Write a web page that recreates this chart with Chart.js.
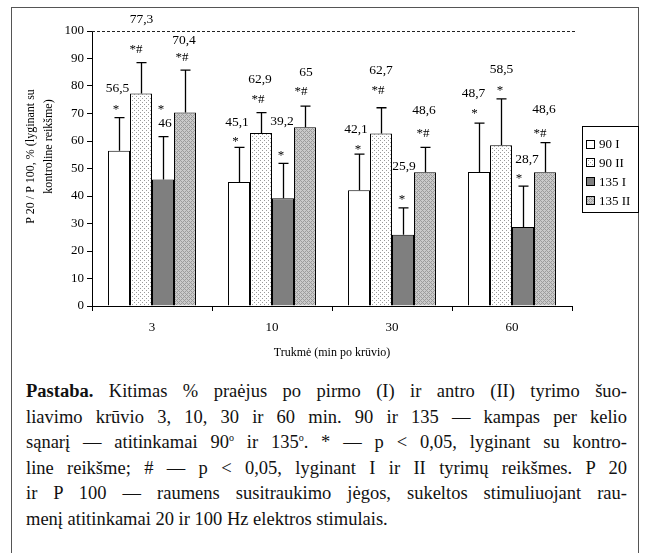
<!DOCTYPE html>
<html>
<head>
<meta charset="utf-8">
<script src="https://cdn.jsdelivr.net/npm/chart.js@4.4.1/dist/chart.umd.min.js"></script>
<style>
  body { margin: 0; background: #fff; width: 645px; height: 553px; overflow: hidden; position: relative; }
  #frame { position: absolute; left: 11px; top: 7px; width: 626px; height: 600px; border: 1px solid #555; }
  #chart { position: absolute; left: 0; top: 0; }
  #note { position: absolute; left: 26px; top: 379px; width: 601px;
          font-family: 'Liberation Serif', 'Times New Roman', serif; font-size: 18.5px; line-height: 25.5px;
          color: #111; }
  #note div { white-space: nowrap; text-align: justify; text-align-last: justify; }
  #note div.last { text-align-last: left; }
  #note sup { font-size: 10px; line-height: 0; }
</style>
</head>
<body>
<div id="frame"></div>
<canvas id="chart" width="645" height="375"></canvas>
<div id="note">
  <div><b>Pastaba.</b> Kitimas % praėjus po pirmo (I) ir antro (II) tyrimo šuo-</div>
  <div>liavimo krūvio 3, 10, 30 ir 60 min. 90 ir 135 — kampas per kelio</div>
  <div>sąnarį — atitinkamai 90<sup>o</sup> ir 135<sup>o</sup>. * — p &lt; 0,05, lyginant su kontro-</div>
  <div>line reikšme; # — p &lt; 0,05, lyginant I ir II tyrimų reikšmes. P 20</div>
  <div>ir P 100 — raumens susitraukimo jėgos, sukeltos stimuliuojant rau-</div>
  <div class="last">menį atitinkamai 20 ir 100 Hz elektros stimulais.</div>
</div>
<script>
// ===== DATA =====
const categories = ['3', '10', '30', '60'];
const seriesNames = ['90 I', '90 II', '135 I', '135 II'];

const values90I = [56.5, 45.1, 42.1, 48.7];
const values90II = [77.3, 62.9, 62.7, 58.5];
const values135I = [46, 39.2, 25.9, 28.7];
const values135II = [70.4, 65, 48.6, 48.6];

// upper error bar (SD)
const sd90I = [12.0, 12.6, 13.1, 17.8];
const sd90II = [11.2, 7.4, 9.4, 16.8];
const sd135I = [15.6, 12.7, 9.8, 14.9];
const sd135II = [15.4, 7.7, 9.1, 10.8];

// significance marks
const sig90I = ['*', '*', '*', '*'];
const sig90II = ['*#', '*#', '*#', '*'];
const sig135I = ['*', '*', '*', '*'];
const sig135II = ['*#', '*#', '*#', '*#'];

const controlLevel = 100;
const yMin = 0, yMax = 100, yStep = 10;

const yTitleLines = ['P 20 / P 100, % (lyginant su', 'kontroline reikšme)'];
const xTitle = 'Trukmė (min po krūvio)';

// ===== LABEL LAYOUT (offsets from the error bar cap: [numDx, numDy, sigDx, sigDy]) =====
const labelOffsets = [
  [[-1.5, -29, -3, -11], [-2, -25, -3.5, -9], [-3, -25, -1, -8], [-5.5, -30, -4.5, -13]],
  [[0.5, -43, -5, -14], [-1, -33, -3, -14], [0, -37, -3, -18], [0.5, -29, -1, -11]],
  [[2, -13, -2, -30], [-1, -42, -2, -11], [1, -41, -1, -11], [4, -27, -4, -11]],
  [[-1, -30, -3, -13], [1, -34, -4, -15], [-1, -37, -2, -15], [-1, -33, -5, -10]]
];

const SERIF = "'Liberation Serif', 'Times New Roman', serif";
Chart.defaults.font.family = SERIF;
Chart.defaults.color = '#000';

// ===== PATTERNS =====
function makePattern(size, base, dots, dotColor) {
  const c = document.createElement('canvas');
  c.width = size; c.height = size;
  const g = c.getContext('2d');
  g.fillStyle = base;
  g.fillRect(0, 0, size, size);
  g.fillStyle = dotColor;
  dots.forEach(d => g.fillRect(d[0], d[1], 1, 1));
  return g.createPattern(c, 'repeat');
}
const ctx = document.getElementById('chart').getContext('2d');
const fillDotted = makePattern(4, '#ffffff', [[0, 0], [2, 2]], '#9a9a9a');
const fillHatch = makePattern(4, '#cacaca', [[0, 0], [1, 1], [2, 2], [3, 3], [3, 1], [1, 3]], '#9c9c9c');

const seriesValues = [values90I, values90II, values135I, values135II];
const seriesSd = [sd90I, sd90II, sd135I, sd135II];
const seriesSig = [sig90I, sig90II, sig135I, sig135II];
const seriesFill = ['#ffffff', fillDotted, '#7f7f7f', fillHatch];

const datasets = seriesNames.map((name, i) => ({
  label: name,
  data: seriesValues[i],
  sd: seriesSd[i],
  sig: seriesSig[i],
  backgroundColor: seriesFill[i],
  borderColor: '#000',
  borderWidth: 1,
  categoryPercentage: 0.733,
  barPercentage: 1
}));

function fmt(v) {
  return String(v).replace('.', ',');
}

// ===== PLUGINS =====
const refLinePlugin = {
  id: 'refLine',
  afterDatasetsDraw(chart) {
    const c = chart.ctx, area = chart.chartArea;
    const y = chart.scales.y.getPixelForValue(controlLevel);
    c.save();
    c.strokeStyle = '#222';
    c.lineWidth = 1;
    c.setLineDash([3, 2]);
    c.beginPath();
    c.moveTo(area.left, y + 0.5);
    c.lineTo(area.right + 3, y + 0.5);
    c.stroke();
    c.restore();
  }
};

const errorBarPlugin = {
  id: 'errorBars',
  afterDatasetsDraw(chart) {
    const c = chart.ctx, yScale = chart.scales.y;
    c.save();
    c.strokeStyle = '#000';
    c.lineWidth = 1.3;
    c.fillStyle = '#000';
    chart.data.datasets.forEach((ds, di) => {
      const meta = chart.getDatasetMeta(di);
      meta.data.forEach((bar, i) => {
        const v = ds.data[i];
        const capY = yScale.getPixelForValue(v + ds.sd[i]);
        const x = Math.round(bar.x) + 0.5;
        c.beginPath();
        c.moveTo(x, bar.y);
        c.lineTo(x, capY);
        c.moveTo(x - 5, capY);
        c.lineTo(x + 5, capY);
        c.stroke();

        // value and significance labels
        const off = labelOffsets[di][i];
        c.textAlign = 'center';
        c.textBaseline = 'middle';
        c.font = '13.5px ' + SERIF;
        c.fillText(fmt(v), bar.x + off[0], capY + off[1]);
        const s = ds.sig[i];
        c.font = '13px ' + SERIF;
        c.fillText(s, bar.x + off[2], capY + off[3] + (s === '*' ? 3 : 1));
      });
    });
    c.restore();
  }
};

const yTitlePlugin = {
  id: 'yTitle',
  afterDraw(chart) {
    const c = chart.ctx, area = chart.chartArea;
    const mid = (area.top + area.bottom) / 2;
    c.save();
    c.font = '12px ' + SERIF;
    c.fillStyle = '#000';
    c.textAlign = 'center';
    c.textBaseline = 'middle';
    const shifts = [[-61, -12], [-43, -22]];
    yTitleLines.forEach((line, k) => {
      c.save();
      c.translate(area.left + shifts[k][0], mid + shifts[k][1]);
      c.rotate(-Math.PI / 2);
      c.fillText(line, 0, 0);
      c.restore();
    });
    c.restore();
  }
};

const boxLegendPlugin = {
  id: 'boxLegend',
  afterDraw(chart) {
    const c = chart.ctx, area = chart.chartArea;
    const left = area.right + 10, w = 56, h = 86;
    const top = Math.round((area.top + area.bottom) / 2 - h / 2);
    c.save();
    c.strokeStyle = '#000';
    c.lineWidth = 1;
    c.strokeRect(left + 0.5, top + 0.5, w, h);
    c.font = '13px ' + SERIF;
    c.textBaseline = 'middle';
    c.textAlign = 'left';
    chart.data.datasets.forEach((ds, i) => {
      const cy = top + 18 + i * 18.7;
      c.fillStyle = ds.backgroundColor;
      c.fillRect(left + 4, Math.round(cy - 4.5), 9, 9);
      c.strokeRect(left + 4.5, Math.round(cy - 4.5) + 0.5, 8, 8);
      c.fillStyle = '#000';
      c.fillText(ds.label, left + 17, cy + 1);
    });
    c.restore();
  }
};

// ===== CHART =====
new Chart(ctx, {
  type: 'bar',
  data: {
    labels: categories,
    datasets: datasets
  },
  options: {
    responsive: false,
    animation: false,
    devicePixelRatio: 1,
    layout: { padding: { top: 31, left: 0, right: 73, bottom: 0 } },
    plugins: {
      legend: { display: false },
      tooltip: { enabled: false }
    },
    scales: {
      x: {
        afterFit: function(scale) { scale.height = 69; },
        grid: { offset: true, drawOnChartArea: false, color: '#000', tickLength: 5, lineWidth: 1 },
        border: { color: '#000', width: 1 },
        ticks: { font: { size: 13 }, color: '#000', padding: 9 },
        title: { display: true, text: xTitle, font: { size: 12 }, color: '#000', padding: { top: 0, bottom: 15 } }
      },
      y: {
        min: yMin,
        max: yMax,
        afterFit: function(scale) { scale.width = 92; },
        grid: { drawOnChartArea: false, color: '#000', tickLength: 5, lineWidth: 1 },
        border: { color: '#000', width: 1 },
        ticks: { stepSize: yStep, font: { size: 13 }, color: '#000', padding: 3 }
      }
    }
  },
  plugins: [refLinePlugin, errorBarPlugin, yTitlePlugin, boxLegendPlugin]
});
</script>
</body>
</html>
